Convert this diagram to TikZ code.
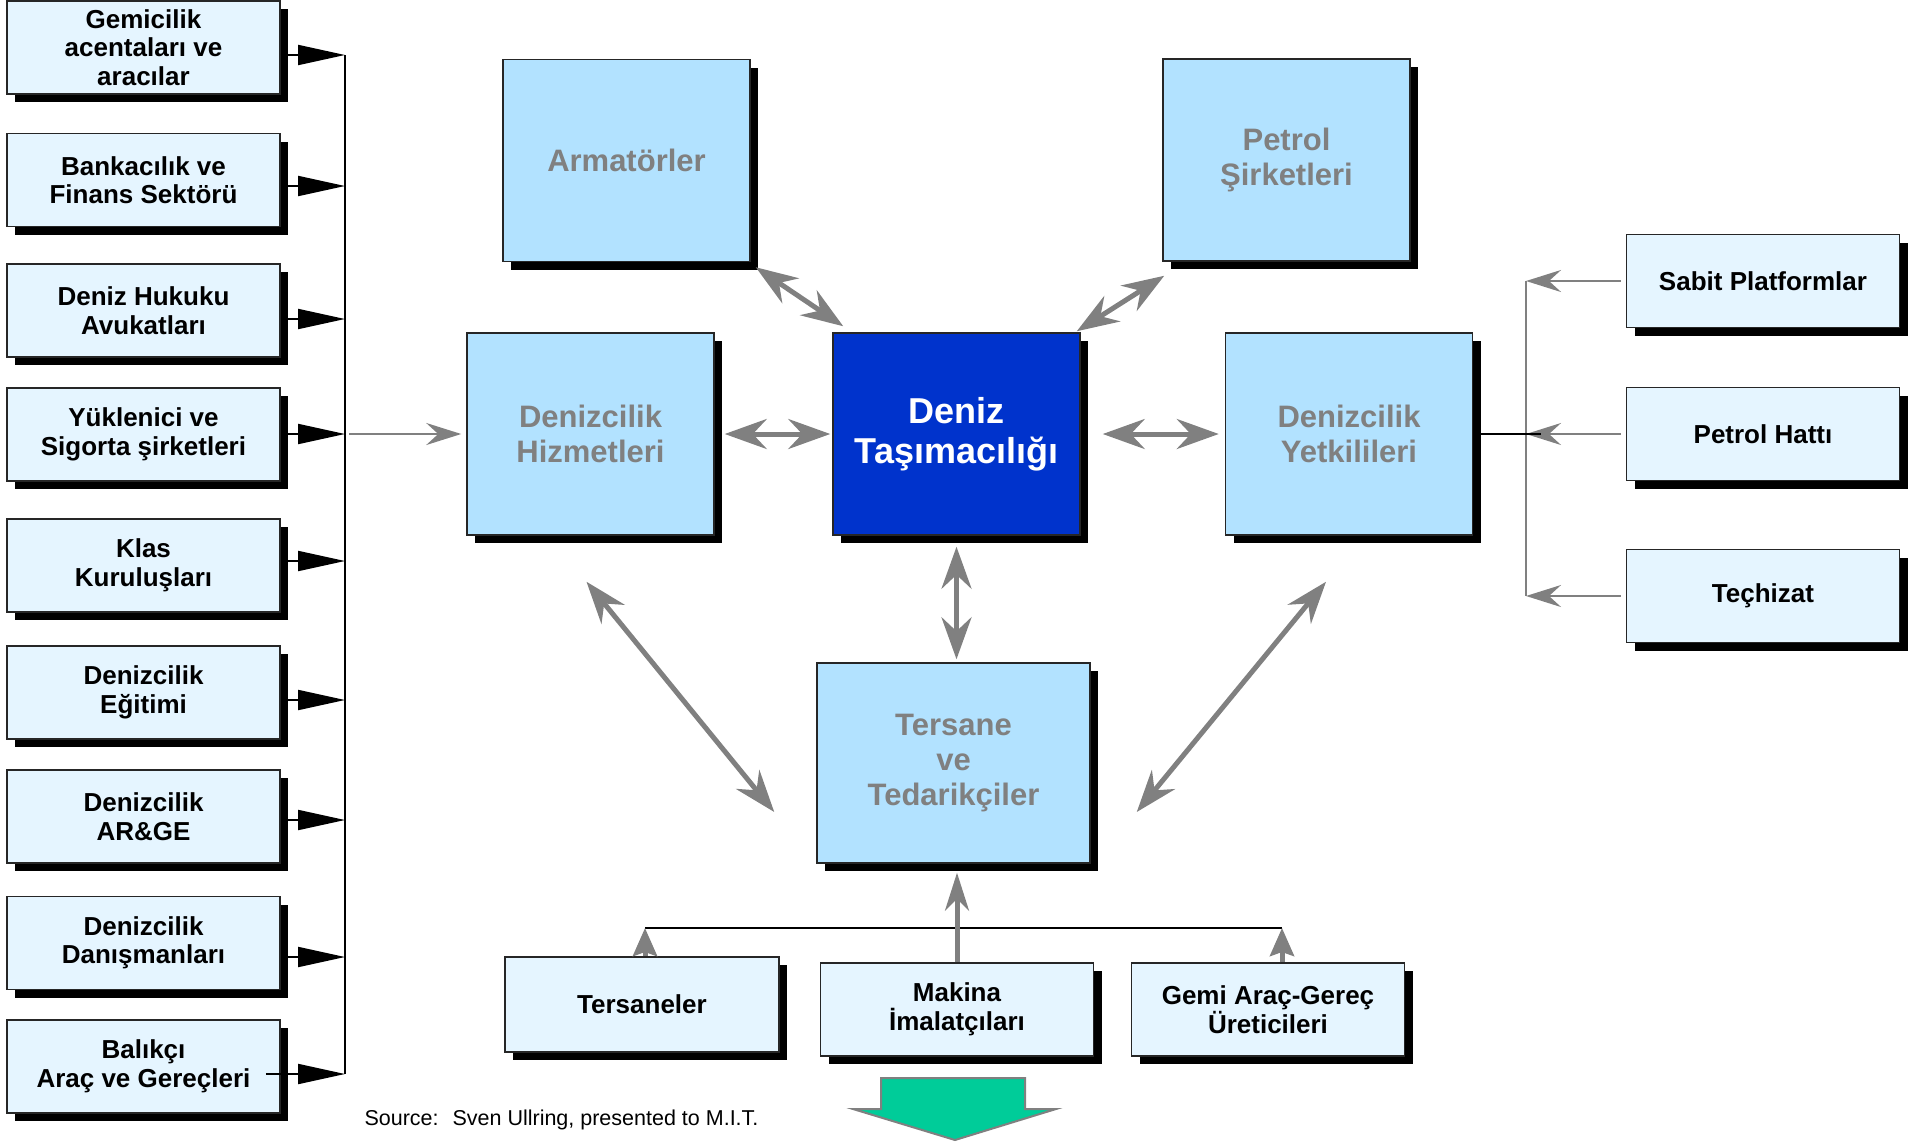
\documentclass[tikz,border=0pt]{standalone}
\usepackage{fontspec}
\setmainfont{Liberation Sans}
\usetikzlibrary{arrows.meta,shadows}

\definecolor{boxblue}{RGB}{178,226,255}
\definecolor{paleblue}{RGB}{229,245,255}
\definecolor{coreblue}{RGB}{0,51,204}
\definecolor{linegray}{RGB}{128,128,128}
\definecolor{seagreen}{RGB}{0,204,153}

\begin{document}
\begin{tikzpicture}[x=1pt, y=-1pt,
        shadowed/.style = {drop shadow={shadow xshift=8pt, shadow yshift=-8pt, fill=black, opacity=1}},
        smallbox/.style = {draw=black!85, line width=1.5pt, fill=paleblue, shadowed, inner sep=2pt,
            minimum width=273pt, minimum height=93pt, align=center,
            font=\bfseries\fontsize{26}{28.5}\selectfont},
        bigbox/.style = {draw=black!85, line width=1.5pt, fill=boxblue, shadowed, inner sep=2pt,
            minimum width=247pt, minimum height=202pt, align=center, text=linegray,
            font=\bfseries\fontsize{31}{35}\selectfont},
        corebox/.style = {bigbox, fill=coreblue, text=white, font=\bfseries\fontsize{36}{40}\selectfont},
        dbl/.style = {draw=linegray, line width=5pt,
            {Stealth[length=42pt,width=30pt,inset=14pt]}-{Stealth[length=42pt,width=30pt,inset=14pt]}},
        rise/.style = {draw=linegray, line width=5pt, -{Stealth[length=28pt,width=24pt,inset=4pt]}},
        feed/.style = {draw=linegray, line width=2.5pt, -{Stealth[length=35pt,width=22pt,inset=12pt]}},
        blk/.style = {draw, line width=2pt, -{Triangle[length=47pt,width=20pt]}},
    ]
    \useasboundingbox (0,0) rectangle (1923,1144);

    % left column
    \node (gem)  [smallbox] at (143.5,47.5) {Gemicilik\\acentaları ve\\aracılar};
    \node (bank) [smallbox] at (143.5,180) {Bankacılık ve\\Finans Sektörü};
    \node (huk)  [smallbox] at (143.5,310.5) {Deniz Hukuku\\Avukatları};
    \node (sig)  [smallbox] at (143.5,434.5) {Yüklenici ve\\Sigorta şirketleri};
    \node (klas) [smallbox] at (143.5,565.5) {Klas\\Kuruluşları};
    \node (egt)  [smallbox] at (143.5,692.5) {Denizcilik\\Eğitimi};
    \node (arge) [smallbox] at (143.5,816.5) {Denizcilik\\AR\&GE};
    \node (dan)  [smallbox] at (143.5,943) {Denizcilik\\Danışmanları};
    \node (bal)  [smallbox] at (143.5,1066.5) {Balıkçı\\Araç ve Gereçleri};

    % centre
    \node (arm) [bigbox] at (626.5,160.5) {Armatörler};
    \node (pet) [bigbox] at (1286.5,160) {Petrol\\Şirketleri};
    \node (hiz) [bigbox] at (590.5,434) {Denizcilik\\Hizmetleri};
    \node (den) [corebox] at (956.5,434) {Deniz\\Taşımacılığı};
    \node (yet) [bigbox] at (1349,434) {Denizcilik\\Yetkilileri};
    \node (ter) [bigbox, minimum width=273pt, minimum height=200pt] at (953.5,763) {Tersane\\ve\\Tedarikçiler};

    % right column
    \node (sabit) [smallbox] at (1763,281) {Sabit Platformlar};
    \node (hat)   [smallbox] at (1763,434) {Petrol Hattı};
    \node (tec)   [smallbox] at (1763,596) {Teçhizat};

    % suppliers
    \node (tsn)  [smallbox, minimum width=274pt, minimum height=95pt] at (642,1004.5) {Tersaneler};
    \node (mak)  [smallbox] at (957,1009.5) {Makina\\İmalatçıları};
    \node (gemi) [smallbox] at (1268,1009.5) {Gemi Araç-Gereç\\Üreticileri};

    \node (src) [anchor=west, font=\fontsize{21.5}{24}\selectfont] at (361,1120) {Source:~ Sven Ullring, presented to M.I.T.};

    % left bracket
    \coordinate (ltop) at (345,55);
    \coordinate (lbot) at (345,1074);
    \coordinate (lmid) at (349,434);
    \draw[line width=2pt] (ltop) -- (lbot);
    \foreach \n/\y in {gem/55, bank/186, huk/319, sig/434, klas/561, egt/700, arge/820, dan/957}
        \path[blk] (\n.east |- 0,\y) -- (ltop |- 0,\y);
    \path[blk] ([xshift=-15pt]bal.east |- lbot) -- (lbot);
    \path[feed, shorten >=5pt] (lmid) -- (hiz.west);

    % right bracket
    \coordinate (rtop) at (1526,281);
    \coordinate (rbot) at (1526,596);
    \draw[linegray, line width=2.5pt] (rtop) -- (rbot);
    \path[feed, shorten <=5pt] (sabit.west) -- (rtop);
    \path[feed, shorten <=5pt] (hat.west) -- (hat.west -| rtop);
    \path[feed, shorten <=5pt] (tec.west) -- (rbot);
    \draw[line width=2pt] ([xshift=8pt]yet.east) -- ++(60,0);

    % links to the core
    \path[dbl] ([shift={(5,5)}]arm.south east) -- ([shift={(11,-6)}]den.north west);
    \path[dbl] ([shift={(2,14)}]pet.south west) -- ([shift={(-4,-1)}]den.north east);
    \path[dbl, shorten <=10pt, shorten >=2pt] (hiz.east) -- (den.west);
    \path[dbl, shorten <=22pt, shorten >=6pt] (den.east) -- (yet.west);
    \path[dbl, shorten <=11pt, shorten >=3pt] (den.south) -- (den.south |- ter.north);
    \path[dbl] ([shift={(-4,46)}]hiz.south) -- ([shift={(-42,49)}]ter.west);
    \path[dbl] ([shift={(-23,46)}]yet.south) -- ([shift={(46,49)}]ter.east);

    % supplier bus
    \coordinate (busl) at (645,928);
    \coordinate (busr) at (1282,928);
    \draw[line width=2pt] (busl) -- (busr);
    \path[rise] (tsn.north -| busl) -- (busl);
    \path[rise] (gemi.north -| busr) -- (busr);
    \path[draw=linegray, line width=5pt, -{Stealth[length=38pt,width=24pt,inset=12pt]}, shorten >=9pt]
        (mak.north) -- (mak.north |- ter.south);

    % output arrow
    \draw[linegray, line width=2pt, fill=seagreen] (881,1078) -- (1025,1078) -- (1025,1109) -- (1056,1109)
        -- (955,1140) -- (853,1109) -- (881,1109) -- cycle;
\end{tikzpicture}
\end{document}
